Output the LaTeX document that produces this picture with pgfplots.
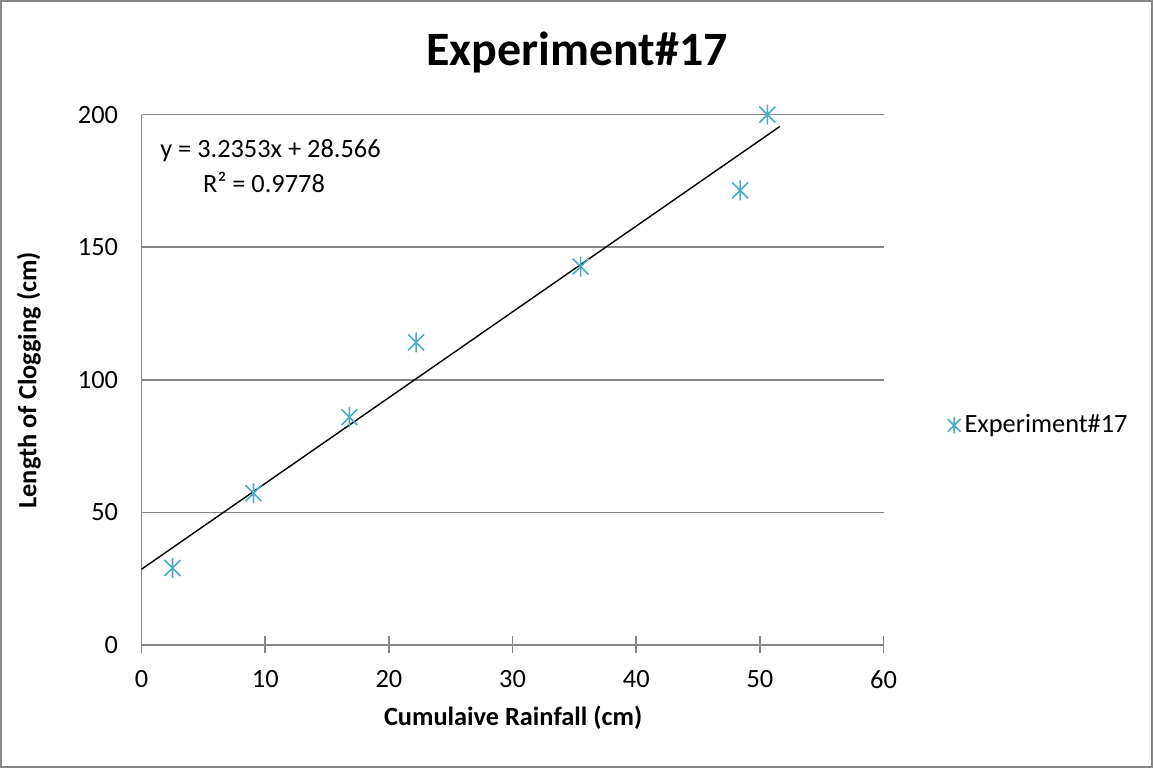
\documentclass[border=0pt]{standalone}
\usepackage{pgfplots}
\pgfplotsset{compat=1.18}
\usepackage{fontspec}
\setmainfont{Carlito}
\definecolor{serblue}{RGB}{75,172,198}
\definecolor{axgray}{RGB}{134,134,134}
% Excel-style star: vertical bar plus a cross
\pgfdeclareplotmark{xlstar}{%
  \pgfpathmoveto{\pgfqpoint{0pt}{\pgfplotmarksize}}%
  \pgfpathlineto{\pgfqpoint{0pt}{-\pgfplotmarksize}}%
  \pgfpathmoveto{\pgfqpoint{-0.8\pgfplotmarksize}{0.8\pgfplotmarksize}}%
  \pgfpathlineto{\pgfqpoint{0.8\pgfplotmarksize}{-0.8\pgfplotmarksize}}%
  \pgfpathmoveto{\pgfqpoint{-0.8\pgfplotmarksize}{-0.8\pgfplotmarksize}}%
  \pgfpathlineto{\pgfqpoint{0.8\pgfplotmarksize}{0.8\pgfplotmarksize}}%
  \pgfusepathqstroke}
\begin{document}
\begin{tikzpicture}
\draw[axgray, line width=0.8pt] (0,0) rectangle (576.5pt,383.5pt);
\begin{axis}[
  at={(70.5pt,61pt)}, anchor=south west,
  scale only axis, width=371.5pt, height=265.5pt,
  xmin=0, xmax=60, ymin=0, ymax=200,
  xtick={0,10,...,60}, ytick={0,50,...,200},
  axis x line=bottom, axis y line=left,
  axis line style={axgray, line width=0.8pt, -},
  x tick style={axgray, line width=0.8pt}, y tick style={draw=none},
  xtick align=center,
  major tick length=8.5pt,
  ymajorgrids, grid style={axgray, line width=0.8pt},
  tick label style={font=\fontsize{13.2}{15}\selectfont},
  xticklabel style={yshift=-5pt},
  yticklabel style={xshift=-4pt},
  /pgf/number format/assume math mode=true,
  title={Experiment\#17},
  title style={font=\fontsize{24}{28}\selectfont\bfseries, at={(0.587,1.095)}, anchor=center},
  xlabel={Cumulaive Rainfall (cm)},
  xlabel style={font=\fontsize{13.2}{15}\selectfont\bfseries, at={(0.5007,-0.137)}, anchor=center},
  ylabel={Length of Clogging (cm)},
  ylabel style={font=\fontsize{13.2}{15}\selectfont\bfseries, at={(-0.152,0.499)}, anchor=center},
  legend style={draw=none, at={(1.078,0.414)}, anchor=west, font=\fontsize{13.2}{15}\selectfont,
    legend cell align=left},
  legend image code/.code={\draw[mark repeat=2,mark phase=2, mark size=4pt] plot coordinates {(0cm,0cm) (0.12cm,0cm) (0.24cm,0cm)};},
  clip=false,
]
\addplot[only marks, mark=xlstar, mark size=5pt, serblue, mark options={line width=0.8pt}]
  coordinates {(2.5,29.0) (9.05,57.2) (16.8,85.9) (22.2,114.1) (35.5,142.7) (48.4,171.4) (50.6,200)};
\addlegendentry{Experiment\#17}
\addplot[black, line width=0.7pt, forget plot] coordinates {(0,28.566) (51.6,195.5)};
\node[font=\fontsize{13.2}{15}\selectfont] at (axis cs:10.42,186.4) {y = 3.2353x + 28.566};
\node[font=\fontsize{13.2}{15}\selectfont] at (axis cs:9.9,174.4) {R² = 0.9778};
\end{axis}
\end{tikzpicture}
\end{document}
